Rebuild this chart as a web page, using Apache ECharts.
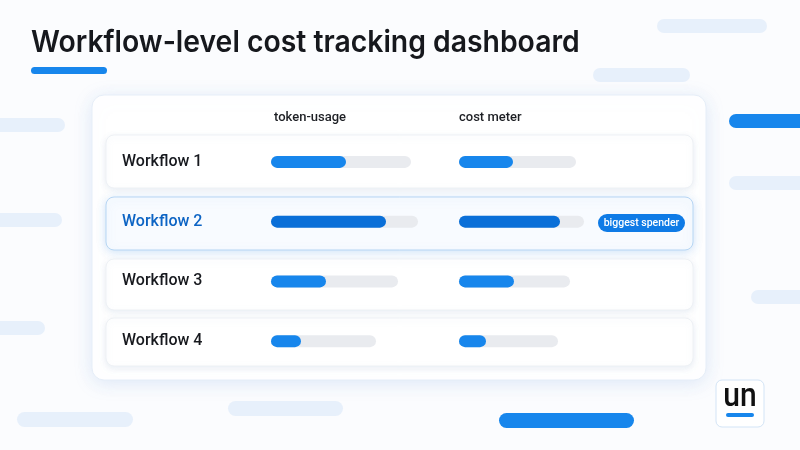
<!DOCTYPE html>
<html>
<head>
<meta charset="utf-8">
<script src="https://cdn.jsdelivr.net/npm/echarts@6/dist/echarts.min.js"></script>
<style>
html,body{margin:0;padding:0;background:#fbfcfe;}
#c{width:800px;height:450px;}
</style>
</head>
<body>
<div id="c"></div>
<script>
// ---- data ----
var workflows = ['Workflow 1', 'Workflow 2', 'Workflow 3', 'Workflow 4'];
var tokenUsage = [75, 115, 55, 30];
var tokenTrack = [140, 147, 127, 105];
var costMeter = [54, 101, 55, 27];
var costTrack = [117, 125, 111, 99];
var columnHeaders = ['token-usage', 'cost meter'];
var highlightIndex = 1;
var highlightTag = 'biggest spender';
var titleText = 'Workflow-level cost tracking dashboard';

var chart = echarts.init(document.getElementById('c'), null, {renderer: 'canvas'});

var FONT = 'Inter, "Noto Sans", sans-serif';
var FONT2 = 'Roboto, "Noto Sans", sans-serif';
var BLUE = '#1786ec';
var BLUE_DARK = '#0a6fd8';
var TRACK = '#e9ebef';
var PALE = '#e7f0fb';

function pill(x, y, w, h, color, z) {
  return {type: 'rect', shape: {x: x, y: y, width: w, height: h, r: h / 2}, style: {fill: color}, z: z || 0, silent: true};
}

var rows = [
  {y: 135, h: 53}, {y: 197, h: 53}, {y: 259, h: 51}, {y: 318, h: 48}
];

var graphics = [
  // background decorations
  pill(657, 19, 110, 14, PALE),
  pill(593, 68, 97, 14, PALE),
  pill(729, 114, 90, 14, BLUE),
  pill(729, 176, 90, 14, PALE),
  pill(751, 290, 70, 14, PALE),
  pill(-20, 118, 85, 14, PALE),
  pill(-20, 213, 82, 14, PALE),
  pill(-20, 321, 65, 14, PALE),
  pill(17, 412, 116, 15, PALE),
  pill(228, 401, 115, 15, PALE),
  pill(499, 413, 135, 15, BLUE),
  // title
  {type: 'text', x: 31, y: 58, scaleX: 0.945, z: 5,
   style: {text: titleText, font: '600 30px ' + FONT, fill: '#16181d', verticalAlign: 'bottom'}},
  pill(31, 67, 76, 7, BLUE, 5),
  // card
  {type: 'rect', shape: {x: 92, y: 95, width: 614, height: 285, r: 12},
   style: {fill: '#ffffff', stroke: '#e6eef8', lineWidth: 1, shadowBlur: 18, shadowColor: 'rgba(120,165,220,0.22)', shadowOffsetY: 3}, z: 1},
  // column headers
  {type: 'text', left: 274, top: 111, style: {text: columnHeaders[0], font: '500 13px ' + FONT2, fill: '#1d1f24'}, z: 5},
  {type: 'text', left: 459, top: 111, style: {text: columnHeaders[1], font: '500 13px ' + FONT2, fill: '#1d1f24'}, z: 5},
  // logo
  {type: 'rect', shape: {x: 716, y: 380, width: 48, height: 47, r: 6}, style: {fill: '#ffffff', stroke: '#d3e4f6', lineWidth: 1}, z: 2},
  {type: 'text', x: 740, y: 398, scaleY: 1.1, style: {text: 'un', font: '500 30px ' + FONT2, fill: '#111', align: 'center', verticalAlign: 'middle'}, z: 3},
  pill(726, 413, 28, 4, BLUE, 3)
];

rows.forEach(function (r, i) {
  var hl = i === highlightIndex;
  graphics.push({
    type: 'rect', shape: {x: 106, y: r.y, width: 587, height: r.h, r: 8},
    style: {
      fill: hl ? '#f8fbff' : '#ffffff',
      stroke: hl ? '#b7d6f4' : '#eef1f5', lineWidth: 1,
      shadowBlur: hl ? 10 : 6, shadowColor: hl ? 'rgba(80,150,230,0.25)' : 'rgba(140,165,200,0.18)', shadowOffsetY: 2
    }, z: 2
  });
});

// tag pill
graphics.push({type: 'rect', shape: {x: 598, y: 214, width: 87, height: 18, r: 9}, style: {fill: '#0f7be6'}, z: 6});
graphics.push({type: 'text', x: 641.5, y: 223, style: {text: highlightTag, font: '500 10.5px ' + FONT2, fill: '#ffffff', align: 'center', verticalAlign: 'middle'}, z: 7});

function fillColor(p) {
  return p.dataIndex === highlightIndex ? BLUE_DARK : BLUE;
}

var option = {
  animation: false,
  backgroundColor: '#fbfcfe',
  graphic: graphics,
  grid: [
    {left: 271, width: 160, top: 132, height: 239, containLabel: false, z: 10},
    {left: 459, width: 140, top: 132, height: 239, containLabel: false, z: 10}
  ],
  xAxis: [
    {gridIndex: 0, type: 'value', min: 0, max: 160, show: false},
    {gridIndex: 1, type: 'value', min: 0, max: 140, show: false}
  ],
  yAxis: [
    {gridIndex: 0, type: 'category', data: workflows, inverse: true, z: 20,
     axisLine: {show: false}, axisTick: {show: false}, splitLine: {show: false},
     axisLabel: {show: true, margin: 149, align: 'left', fontFamily: FONT2, fontSize: 16, fontWeight: 500,
       padding: [4, 0, 0, 0],
       color: function (v, i) { return i === highlightIndex ? '#0d64c4' : '#17191e'; }}},
    {gridIndex: 1, type: 'category', data: workflows, inverse: true, show: false}
  ],
  series: [
    {type: 'bar', xAxisIndex: 0, yAxisIndex: 0, data: tokenTrack, barWidth: 12, barGap: '-100%',
     itemStyle: {color: TRACK, borderRadius: 6}, silent: true, z: 10},
    {type: 'bar', xAxisIndex: 0, yAxisIndex: 0, data: tokenUsage, barWidth: 12, barGap: '-100%',
     itemStyle: {color: fillColor, borderRadius: 6}, silent: true, z: 11},
    {type: 'bar', xAxisIndex: 1, yAxisIndex: 1, data: costTrack, barWidth: 12, barGap: '-100%',
     itemStyle: {color: TRACK, borderRadius: 6}, silent: true, z: 10},
    {type: 'bar', xAxisIndex: 1, yAxisIndex: 1, data: costMeter, barWidth: 12, barGap: '-100%',
     itemStyle: {color: fillColor, borderRadius: 6}, silent: true, z: 11}
  ]
};
chart.setOption(option);
</script>
</body>
</html>
